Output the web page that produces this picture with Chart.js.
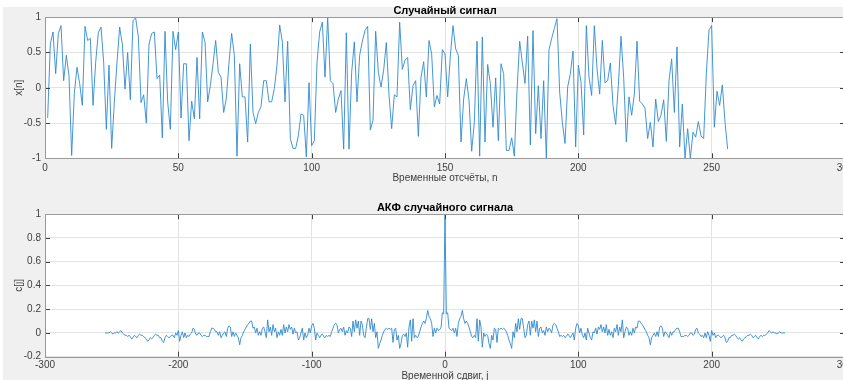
<!DOCTYPE html>
<html>
<head>
<meta charset="utf-8">
<script src="https://cdn.jsdelivr.net/npm/chart.js@4"></script>
<style>
  html, body { margin: 0; padding: 0; background: #ffffff; overflow: hidden; }
  body { width: 843px; height: 380px; position: relative; }
  #bg { position: absolute; left: 3px; top: 7px; right: 0; bottom: 0; background: #f0f0f0; }
  .wrap { position: absolute; left: 0; width: 870px; height: 200px; }
  #w1 { top: 0; height: 190px; }
  #w2 { top: 190px; }
</style>
</head>
<body>
<div id="bg"></div>
<div class="wrap" id="w1"><canvas id="signalChart"></canvas></div>
<div class="wrap" id="w2"><canvas id="acfChart"></canvas></div>
<script>
// random signal x[n], n = 1..256
const signal = [
  -0.43, 0.62, 0.79, 0.20, 0.77, 0.88, 0.10, 0.46, 0.17, -0.96,
  -0.08, 0.29, 0.06, -0.25, 0.87, 0.67, 0.70, -0.25, 0.36, 0.78,
  0.86, 0.36, -0.59, 0.32, -0.86, -0.20, 0.36, 0.86, 0.62, -0.02,
  0.50, -0.17, 0.95, 0.99, 0.72, -0.21, -0.10, -0.50, 0.62, 0.77,
  0.79, 0.13, 0.18, -0.71, 0.80, -0.20, -0.59, 0.80, 0.54, 0.79,
  -0.43, 0.34, 0.34, -0.75, -0.19, -0.44, 0.43, -0.44, 0.79, 0.65,
  -0.20, 0.03, 0.34, 0.67, 0.22, 0.15, -0.35, -0.15, 0.36, 0.77,
  0.46, -0.97, 0.34, -0.13, -0.13, -0.77, 0.62, -0.35, -0.51, -0.35,
  -0.27, 0.10, 0.10, -0.20, -0.20, -0.01, 0.32, 0.89, 0.65, -0.20,
  0.66, -0.72, -0.86, -0.86, -0.68, -0.37, -0.39, -0.98, 0.07, -0.82,
  -0.75, 0.36, 0.79, 0.93, 0.15, 1.00, 0.10, 0.06, -0.35, -0.16,
  -0.04, -0.87, 0.78, -0.87, 0.22, 0.65, -0.20, 0.46, 0.66, 0.81,
  0.87, -0.60, -0.46, 0.80, 0.22, 0.01, 0.25, 0.64, -0.10, -0.58,
  -0.10, -0.13, 0.93, 0.26, 0.39, 0.43, -0.31, 0.03, 0.10, -0.69,
  0.15, 0.37, -0.13, 0.67, 0.48, -0.27, -0.11, -0.23, 0.54, 0.48,
  -0.13, 0.45, 0.88, 0.55, 0.46, -0.77, -0.16, 0.13, -0.18, -0.90,
  -0.49, 0.66, -0.97, 0.72, -0.77, 0.33, 0.06, -0.56, 0.14, -0.75,
  0.34, 0.20, -0.89, -0.89, -0.71, -0.97, -0.04, 0.66, 0.36, 0.06,
  0.73, -0.81, 0.81, -0.65, 0.03, -0.72, 0.10, -1.00, 0.54, 0.70,
  0.84, 0.98, -0.06, -0.49, -0.79, 0.01, 0.20, 0.52, -0.84, 0.32,
  0.08, -0.67, 0.88, 0.15, -0.11, 0.88, 0.27, -0.09, 0.67, 0.07,
  0.10, 0.35, -0.25, -0.52, 0.03, 0.73, 0.15, -0.77, -0.13, -0.39,
  -0.09, 0.66, -0.19, -0.23, -0.29, -0.72, -0.49, -0.84, -0.16, -0.48,
  -0.39, -0.17, -0.76, 0.10, 0.41, -0.35, 0.58, -0.84, -0.23, -1.00,
  -0.58, -1.00, -0.63, -0.70, -0.48, -0.68, -0.72, 0.20, 0.82, 0.88,
  -0.56, -0.05, -0.25, 0.04, -0.49, -0.87
];

// ACF c[j] for j = 0..255 (the picture is symmetric about j = 0)
const acfPositive = [
  1.00, 0.16, 0.17, 0.04, 0.03, 0.02, 0.04, 0.00, 0.04, -0.03,
  0.08, 0.12, 0.14, 0.19, 0.12, 0.08, 0.10, 0.08, 0.05, 0.01,
  -0.03, -0.04, -0.02, -0.04, 0.12, -0.07, 0.11, 0.05, -0.12, 0.00,
  -0.03, -0.01, -0.02, -0.09, -0.13, -0.02, -0.06, 0.04, 0.03, -0.08,
  0.04, 0.03, 0.04, 0.03, 0.04, 0.03, 0.01, -0.02, -0.06, -0.09,
  -0.13, 0.01, -0.04, 0.08, 0.01, 0.12, 0.03, 0.12, 0.12, 0.04,
  -0.04, -0.02, 0.07, 0.10, -0.02, 0.10, 0.04, 0.11, 0.01, 0.10,
  -0.03, 0.04, 0.05, 0.00, 0.02, -0.02, 0.05, 0.01, 0.04, 0.03,
  0.00, 0.07, 0.08, 0.07, 0.04, 0.01, -0.03, -0.02, -0.03, -0.02,
  -0.04, -0.03, -0.01, -0.02, -0.04, -0.02, 0.00, -0.06, 0.04, 0.08,
  0.06, 0.00, 0.04, -0.02, -0.04, 0.00, -0.06, 0.04, 0.00, -0.04,
  -0.06, 0.01, 0.00, 0.04, -0.01, 0.05, 0.03, 0.07, 0.01, 0.05,
  0.00, 0.07, -0.02, 0.03, -0.02, 0.01, -0.04, 0.04, 0.01, 0.07,
  -0.02, 0.05, 0.01, 0.11, -0.04, 0.01, 0.05, 0.04, -0.02, 0.01,
  -0.02, 0.04, 0.00, 0.05, 0.04, 0.10, 0.10, 0.08, 0.07, 0.05,
  0.03, 0.01, -0.02, -0.04, -0.10, -0.04, -0.02, 0.00, -0.03, 0.01,
  -0.03, 0.05, 0.06, 0.04, -0.03, 0.01, 0.00, -0.02, -0.04, 0.01,
  -0.02, 0.01, 0.01, 0.03, 0.04, 0.04, 0.01, -0.03, -0.03, -0.03,
  -0.02, -0.02, -0.03, -0.02, 0.00, 0.00, -0.02, -0.01, 0.03, 0.04,
  0.00, -0.01, -0.03, -0.02, -0.04, 0.00, -0.04, 0.01, -0.02, -0.07,
  0.02, -0.02, 0.00, -0.04, -0.02, -0.02, -0.03, -0.04, -0.03, -0.02,
  -0.04, -0.08, -0.07, -0.04, -0.04, -0.02, -0.02, -0.01, -0.02, -0.04,
  -0.05, -0.04, -0.06, -0.07, -0.05, -0.04, -0.03, -0.02, -0.02, -0.01,
  -0.02, -0.04, -0.03, -0.02, -0.04, -0.05, -0.03, -0.02, -0.03, -0.02,
  -0.02, -0.01, 0.00, 0.02, 0.01, 0.00, 0.01, 0.00, 0.00, -0.01,
  0.00, 0.01, 0.00, 0.00, 0.00, 0.00
];

const signalTitle = "Случайный сигнал";
const signalXLabel = "Временные отсчёты, n";
const signalYLabel = "x[n]";
const acfTitle = "АКФ случайного сигнала";
const acfXLabel = "Временной сдвиг, j";
const acfYLabel = "c[j]";

const lineColor = "#2f8ad0";
const font = "'Liberation Sans', Arial, Helvetica, sans-serif";

// full ACF: lags -255..255
const acfFull = acfPositive.slice(1).reverse().concat(acfPositive);
const maxLag = acfPositive.length - 1;

// MATLAB-style tick text: 1, 0.5, 0, -0.2
const tickText = (v) => String(+Number(v).toFixed(2));

// draws the box and inward ticks like MATLAB axes
const boxPlugin = {
  id: "matlabBox",
  beforeDraw(chart) {
    const { ctx, chartArea: a } = chart;
    ctx.save();
    ctx.fillStyle = "#ffffff";
    ctx.fillRect(a.left, a.top, a.right - a.left, a.bottom - a.top);
    ctx.restore();
  },
  afterDraw(chart) {
    const { ctx, chartArea: a, scales } = chart;
    const x = scales.x, y = scales.y;
    ctx.save();
    ctx.strokeStyle = "#404040";
    ctx.lineWidth = 1;
    ctx.beginPath();
    x.ticks.forEach((t) => {
      const px = Math.round(x.getPixelForValue(t.value)) + 0.5;
      ctx.moveTo(px, a.bottom);
      ctx.lineTo(px, a.bottom - 5);
      ctx.moveTo(px, a.top);
      ctx.lineTo(px, a.top + 5);
    });
    y.ticks.forEach((t) => {
      const py = Math.round(y.getPixelForValue(t.value)) + 0.5;
      ctx.moveTo(a.left, py);
      ctx.lineTo(a.left + 5, py);
      ctx.moveTo(a.right, py);
      ctx.lineTo(a.right - 5, py);
    });
    ctx.stroke();
    ctx.strokeStyle = "#9a9a9a";
    ctx.strokeRect(Math.round(a.left) + 0.5, Math.round(a.top) + 0.5,
      Math.round(a.right - a.left), Math.round(a.bottom - a.top));
    ctx.restore();
  },
};

function makeChart(id, cfg) {
  return new Chart(document.getElementById(id).getContext("2d"), {
    type: "line",
    data: {
      datasets: [
        {
          data: cfg.points,
          borderColor: lineColor,
          borderWidth: 0.9,
          pointRadius: 0,
          tension: 0,
          fill: false,
        },
      ],
    },
    options: {
      responsive: false,
      animation: false,
      events: [],
      layout: { padding: { left: 0, right: 25, top: 0, bottom: 0 } },
      plugins: {
        legend: { display: false },
        tooltip: { enabled: false },
        title: {
          display: true,
          text: cfg.title,
          fullSize: false,
          color: "#000000",
          font: { family: font, size: 11, weight: "bold", lineHeight: 1.2 },
          padding: cfg.titlePad,
        },
      },
      scales: {
        x: {
          type: "linear",
          min: cfg.xMin,
          max: cfg.xMax,
          ticks: {
            stepSize: cfg.xStep,
            color: "#404040",
            font: { family: font, size: 10 },
            padding: cfg.xTickPad,
            maxRotation: 0,
            autoSkip: false,
            callback: tickText,
          },
          grid: { color: "#e3e3e3", drawTicks: false },
          border: { display: false },
          title: {
            display: true,
            text: cfg.xLabel,
            color: "#404040",
            font: { family: font, size: 10, lineHeight: 1.2 },
            padding: { top: 0, bottom: cfg.xTitlePad },
          },
          afterFit: (s) => { s.height = cfg.xHeight; },
        },
        y: {
          min: cfg.yMin,
          max: cfg.yMax,
          ticks: {
            stepSize: cfg.yStep,
            color: "#404040",
            font: { family: font, size: 10 },
            padding: 4,
            callback: tickText,
          },
          grid: { color: "#e3e3e3", drawTicks: false },
          border: { display: false },
          title: {
            display: true,
            text: cfg.yLabel,
            color: "#404040",
            font: { family: font, size: 10, lineHeight: 1.2 },
            padding: { top: 13, bottom: 0 },
          },
          afterFit: (s) => { s.width = 45; },
        },
      },
    },
    plugins: [boxPlugin],
  });
}

function sizeCanvas(id, w, h) {
  const c = document.getElementById(id);
  c.width = w; c.height = h;
  c.style.width = w + "px"; c.style.height = h + "px";
}

sizeCanvas("signalChart", 870, 190);
sizeCanvas("acfChart", 870, 200);

makeChart("signalChart", {
  points: signal.map((v, i) => ({ x: i + 1, y: v })),
  title: signalTitle,
  titlePad: { top: 4, bottom: 0 },
  xLabel: signalXLabel,
  yLabel: signalYLabel,
  xMin: 0, xMax: 300, xStep: 50,
  yMin: -1, yMax: 1, yStep: 0.5,
  xTickPad: 4, xTitlePad: 6, xHeight: 31.7,
});

makeChart("acfChart", {
  points: acfFull.map((v, i) => ({ x: i - maxLag, y: v })),
  title: acfTitle,
  titlePad: { top: 11, bottom: 0 },
  xLabel: acfXLabel,
  yLabel: acfYLabel,
  xMin: -300, xMax: 300, xStep: 100,
  yMin: -0.2, yMax: 1, yStep: 0.2,
  xTickPad: 3, xTitlePad: 8, xHeight: 33.3,
});
</script>
</body>
</html>
